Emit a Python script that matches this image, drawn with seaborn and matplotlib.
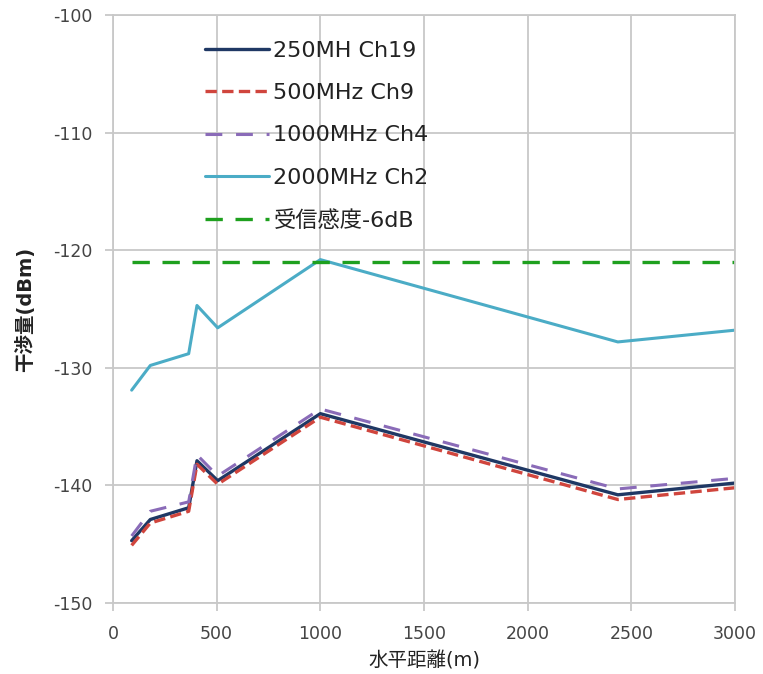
import matplotlib
matplotlib.use("Agg")
import matplotlib.pyplot as plt
import seaborn as sns
import pandas as pd

# ---- data ----
distance_m = [90, 180, 365, 405, 505, 1000, 2435, 3000]
ch19_250 = [-144.7, -142.9, -141.9, -137.9, -139.6, -133.9, -140.8, -139.8]
ch9_500 = [-145.1, -143.2, -142.2, -138.2, -139.9, -134.2, -141.2, -140.2]
ch4_1000 = [-144.3, -142.2, -141.4, -137.4, -139.2, -133.5, -140.3, -139.4]
ch2_2000 = [-131.9, -129.8, -128.8, -124.7, -126.6, -120.8, -127.8, -126.8]
sens_dist = [90, 3000]
sens_level = [-121.0, -121.0]
series_labels = ["250MH Ch19", "500MHz Ch9", "1000MHz Ch4", "2000MHz Ch2", "受信感度-6dB"]
x_ticks = [0, 500, 1000, 1500, 2000, 2500, 3000]
y_ticks = [-150, -140, -130, -120, -110, -100]
x_label = "水平距離(m)"
y_label = "干渉量(dBm)"

sns.set_theme(style="white")
plt.rcParams["font.family"] = ["DejaVu Sans", "Noto Sans CJK JP"]
plt.rcParams["axes.unicode_minus"] = False

fig = plt.figure(figsize=(7.63, 6.74), dpi=100)
ax = fig.add_axes([113 / 763, 1 - 603 / 674, (735 - 113) / 763, (603 - 15) / 674])

styles = [
    (ch19_250, "#1F3864", None, 2.4),
    (ch9_500, "#D0453D", (3.4, 1.6), 2.4),
    (ch4_1000, "#8A6BB8", (5.5, 4.5), 2.2),
    (ch2_2000, "#4BACC6", None, 2.2),
]
for (vals, col, dash, lw), lab in zip(styles, series_labels[:4]):
    d = pd.DataFrame({"x": distance_m, "y": vals})
    sns.lineplot(data=d, x="x", y="y", ax=ax, color=col, linewidth=lw,
                 label=lab, sort=False)
    l = ax.get_lines()[-1]
    if dash is not None:
        l.set_dashes(dash)
        l.set_dash_capstyle("butt")

ds = pd.DataFrame({"x": sens_dist, "y": sens_level})
sns.lineplot(data=ds, x="x", y="y", ax=ax, color="#1EA01E", linewidth=2.4,
             label=series_labels[4])
ax.get_lines()[-1].set_dashes((5.2, 3.8))
ax.get_lines()[-1].set_dash_capstyle("butt")

ax.set_xlim(0, 3000)
ax.set_ylim(-150, -100)
ax.set_xticks(x_ticks)
ax.set_yticks(y_ticks)
ax.grid(True, color="#C8C8C8", linewidth=1.3)
for s in ax.spines.values():
    s.set_visible(True)
    s.set_color("#C8C8C8")
    s.set_linewidth(1.3)
ax.tick_params(axis="both", which="both", length=6, width=1.3, color="#C8C8C8",
               labelsize=12.5, labelcolor="#444444", direction="out",
               left=True, bottom=True)
ax.tick_params(axis="y", pad=9)
ax.tick_params(axis="x", pad=10)
ax.set_xlabel(x_label, fontsize=14, color="#222222", labelpad=6)
ax.set_ylabel(y_label, fontsize=14, fontweight="bold", color="#222222", labelpad=13)

leg = ax.legend(loc="upper left", bbox_to_anchor=(0.115, 0.99), frameon=False,
                fontsize=16, handlelength=2.9, handletextpad=0.2,
                labelspacing=1.0)
for t in leg.get_texts():
    t.set_color("#222222")

fig.savefig("out.png", dpi=100, facecolor="white")
